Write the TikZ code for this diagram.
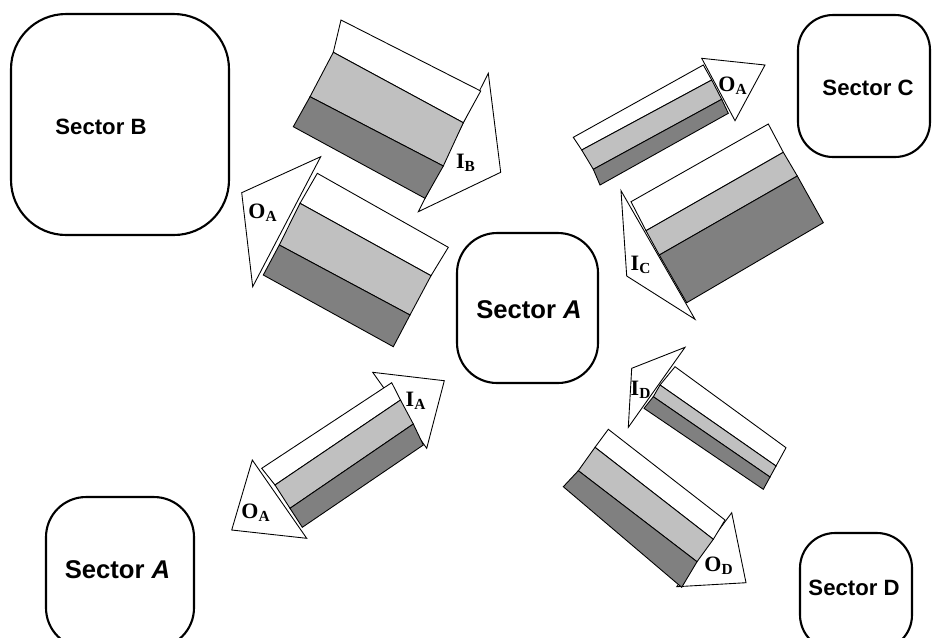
\documentclass[tikz,border=0pt]{standalone}
\usepackage{fontspec}
\setmainfont{Liberation Sans}
\newfontfamily\timesf{Liberation Serif}
\definecolor{lgray}{HTML}{C0C0C0}
\definecolor{dgray}{HTML}{808080}
\tikzset{
  sectorbox/.style={draw=black, line width=1.2pt, fill=none, inner sep=0pt},
  sectorsmall/.style={font=\fontsize{12.6}{15}\selectfont\bfseries, inner sep=0pt},
  sectorbig/.style={font=\fontsize{14.6}{17}\selectfont\bfseries, inner sep=0pt},
  whiteband/.style={draw=black, line width=0.5pt, fill=white},
  lightband/.style={draw=black, line width=0.5pt, fill=lgray},
  darkband/.style={draw=black, line width=0.5pt, fill=dgray},
  headtri/.style={draw=black, line width=0.5pt, fill=white},
  flowlabel/.style={font=\timesf\fontsize{12.5}{14}\selectfont\bfseries, inner sep=0pt}
}
\begin{document}
\begin{tikzpicture}[x=0.02cm,y=-0.02cm]
\useasboundingbox (0,0) rectangle (932,637);
\clip (0,0) rectangle (932,637);
\fill[white] (0,0) rectangle (932,637);

% ---- sector boxes ----
\node[sectorbox, minimum width=4.36cm, minimum height=4.42cm, rounded corners=1.1cm] (boxB) at (120,124.5) {};
\node[sectorsmall] (txtB) at (101,127) {Sector B};

\node[sectorbox, minimum width=2.64cm, minimum height=2.84cm, rounded corners=0.7cm] (boxC) at (864,86) {};
\node[sectorsmall] (txtC) at (868,88) {Sector C};

\node[sectorbox, minimum width=2.82cm, minimum height=3.0cm, rounded corners=0.8cm] (boxA) at (527.5,308) {};
\node[sectorbig] (txtA) at (529,310) {Sector \textit{A}};

\node[sectorbox, minimum width=2.96cm, minimum height=3.02cm, rounded corners=0.8cm] (boxAbl) at (120,572.5) {};
\node[sectorbig] (txtAbl) at (117.5,570) {Sector \textit{A}};

\node[sectorbox, minimum width=2.24cm, minimum height=2.34cm, rounded corners=0.7cm] (boxD) at (856,591.5) {};
\node[sectorsmall] (txtD) at (854,588) {Sector D};

% ---- arrow I_B (down-right) ----
\draw[headtri] (488.3,73.3) -- (500.7,172.3) -- (418.3,211.7) -- cycle;
\draw[whiteband] (341,20) -- (480.7,91) -- (463.3,122.7) -- (333.3,52.3) -- cycle;
\draw[lightband] (333.3,52.3) -- (463.3,122.7) -- (443.3,166) -- (310,96.7) -- cycle;
\draw[darkband] (310,96.7) -- (443.3,166) -- (425,198.3) -- (293.3,126.7) -- cycle;
\node[flowlabel] (lIB) at (466,163) {I\textsubscript{B}};

% ---- arrow O_A (up-left) ----
\draw[headtri] (320.7,156.7) -- (241.7,192.7) -- (252.7,286.7) -- cycle;
\draw[whiteband] (317.3,173.3) -- (448.3,247.3) -- (431,275.7) -- (300,203.3) -- cycle;
\draw[lightband] (300,203.3) -- (431,275.7) -- (410,315) -- (279.3,245) -- cycle;
\draw[darkband] (279.3,245) -- (410,315) -- (393.3,346.7) -- (263.3,275) -- cycle;
\node[flowlabel] (lOA1) at (263,213) {O\textsubscript{A}};

% ---- arrow O_A (up-right, top) ----
\draw[headtri] (701.7,58.3) -- (765,65) -- (735,120.7) -- cycle;
\draw[whiteband] (573.3,137.3) -- (703.3,65) -- (711.7,80) -- (581.7,150) -- cycle;
\draw[lightband] (581.7,150) -- (711.7,80) -- (721.7,99.3) -- (593.3,169.3) -- cycle;
\draw[darkband] (593.3,169.3) -- (721.7,99.3) -- (728.3,113.3) -- (600,185) -- cycle;
\node[flowlabel] (lOA2) at (733,86) {O\textsubscript{A}};

% ---- arrow I_C (down-left) ----
\draw[headtri] (621,190.7) -- (626.7,276) -- (695,319.3) -- cycle;
\draw[whiteband] (631,201.7) -- (768.3,124) -- (783.3,152.3) -- (646,230.7) -- cycle;
\draw[lightband] (646,230.7) -- (783.3,152.3) -- (797.3,176) -- (659.3,255) -- cycle;
\draw[darkband] (659.3,255) -- (797.3,176) -- (823.3,222.7) -- (686.7,302.7) -- cycle;
\node[flowlabel] (lIC) at (641,265) {I\textsubscript{C}};

% ---- double arrow I_A / O_A (bottom left) ----
\draw[headtri] (372.7,372.3) -- (444.3,380.7) -- (426.7,448.3) -- cycle;
\draw[headtri] (252.3,460) -- (231.7,530) -- (306.7,538.3) -- cycle;
\draw[whiteband] (261.7,468.3) -- (391.7,382.7) -- (400.5,400) -- (275,485) -- cycle;
\draw[lightband] (275,485) -- (400.5,400) -- (413.3,424) -- (290,508.3) -- cycle;
\draw[darkband] (290,508.3) -- (413.3,424) -- (423.3,445) -- (302.3,527.3) -- cycle;
\node[flowlabel] (lIA) at (416,401) {I\textsubscript{A}};
\node[flowlabel] (lOA3) at (256,513) {O\textsubscript{A}};

% ---- arrow I_D (up-left) ----
\draw[headtri] (685,347.3) -- (631.7,368.3) -- (628.3,427.3) -- cycle;
\draw[whiteband] (675,366.7) -- (786,447.7) -- (776,466) -- (660,385) -- cycle;
\draw[lightband] (660,385) -- (776,466) -- (770,477) -- (653.3,396.7) -- cycle;
\draw[darkband] (653.3,396.7) -- (770,477) -- (763.3,489.3) -- (644,408.3) -- cycle;
\node[flowlabel] (lID) at (641,390) {I\textsubscript{D}};

% ---- arrow O_D (down-right) ----
\draw[headtri] (731.7,512.7) -- (746,582.7) -- (676.7,586.7) -- cycle;
\draw[whiteband] (608.3,429.3) -- (725,520) -- (713.3,539.3) -- (595,447.3) -- cycle;
\draw[lightband] (595,447.3) -- (713.3,539.3) -- (697,561.7) -- (578.3,470.7) -- cycle;
\draw[darkband] (578.3,470.7) -- (697,561.7) -- (681.7,587.3) -- (563.3,486.7) -- cycle;
\node[flowlabel] (lOD) at (719,566) {O\textsubscript{D}};
\end{tikzpicture}
\end{document}
